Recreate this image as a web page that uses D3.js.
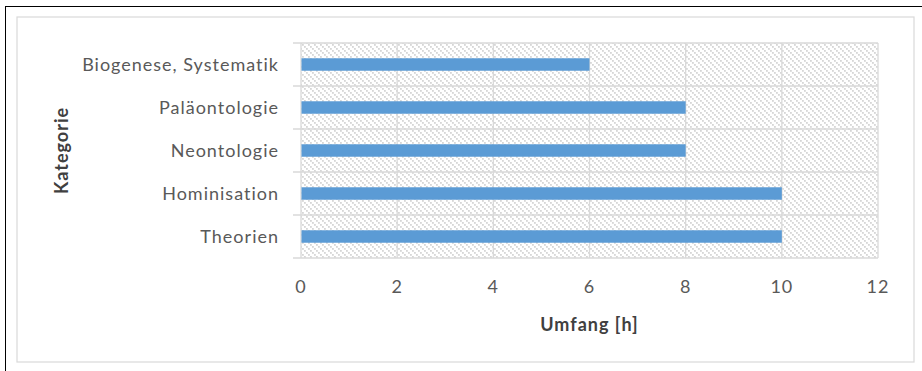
<!DOCTYPE html>
<html>
<head>
<meta charset="utf-8">
<script src="https://cdn.jsdelivr.net/npm/d3@7"></script>
<style>
  html, body { margin: 0; padding: 0; background: #fff; }
  svg { display: block; }
  text { font-family: Lato, "Open Sans", sans-serif; letter-spacing: 1px; }
</style>
</head>
<body>
<svg id="chart" width="922" height="371"></svg>
<script>
// Hours per topic (top to bottom)
const categories = ["Biogenese, Systematik", "Paläontologie", "Neontologie", "Hominisation", "Theorien"];
const hours = [6, 8, 8, 10, 10];
const xTicks = [0, 2, 4, 6, 8, 10, 12];
const xTitle = "Umfang [h]";
const yTitle = "Kategorie";

const W = 922, H = 371;
const plot = { left: 301, right: 878, top: 43, bottom: 258 };
const gridColor = "#d9d9d9";
const textColor = "#595959";
const barColor = "#5b9bd5";

const svg = d3.select("#chart");

// Outer frame and chart area border
svg.append("rect").attr("x", 5.5).attr("y", 6.5).attr("width", W).attr("height", H)
  .attr("fill", "none").attr("stroke", "#000").attr("stroke-width", 1);
svg.append("rect").attr("x", 17).attr("y", 17).attr("width", 897).attr("height", 345)
  .attr("fill", "#fff").attr("stroke", gridColor).attr("stroke-width", 1.2);

// Light downward-diagonal hatch for the plot background
const defs = svg.append("defs");
const pat = defs.append("pattern").attr("id", "hatch")
  .attr("patternUnits", "userSpaceOnUse").attr("width", 6).attr("height", 6);
pat.append("rect").attr("width", 6).attr("height", 6).attr("fill", "#fff");
[[0, 0], [2, 2], [4, 4]].forEach(([x, y]) => {
  pat.append("rect").attr("x", x).attr("y", y).attr("width", 1.8).attr("height", 1.8).attr("fill", "#d6d6d6");
});

const x = d3.scaleLinear().domain([0, 12]).range([plot.left, plot.right]);
const y = d3.scaleBand().domain(categories).range([plot.top, plot.bottom]).paddingInner(0.71).paddingOuter(0.355);
const yb = d3.scaleBand().domain(categories).range([plot.top, plot.bottom]);

svg.append("rect")
  .attr("x", plot.left).attr("y", plot.top)
  .attr("width", plot.right - plot.left).attr("height", plot.bottom - plot.top)
  .attr("fill", "url(#hatch)");

// Vertical gridlines
svg.append("g").selectAll("line").data(xTicks.slice(1)).join("line")
  .attr("x1", d => x(d)).attr("x2", d => x(d))
  .attr("y1", plot.top).attr("y2", plot.bottom)
  .attr("stroke", gridColor).attr("stroke-width", 1.3);

// Horizontal band separators with outward ticks
const bounds = categories.map(c => yb(c)).concat([plot.bottom]);
svg.append("g").selectAll("line").data(bounds).join("line")
  .attr("x1", plot.left - 8).attr("x2", plot.right)
  .attr("y1", d => d).attr("y2", d => d)
  .attr("stroke", gridColor).attr("stroke-width", 1.3);

// Left axis line
svg.append("line").attr("x1", plot.left).attr("x2", plot.left)
  .attr("y1", plot.top).attr("y2", plot.bottom)
  .attr("stroke", gridColor).attr("stroke-width", 1.3);

// Bars
svg.append("g").selectAll("rect").data(categories).join("rect")
  .attr("x", x(0) + 0.5)
  .attr("y", d => y(d))
  .attr("width", (d, i) => x(hours[i]) - x(0) - 0.5)
  .attr("height", y.bandwidth())
  .attr("fill", barColor);

// Category labels
svg.append("g").selectAll("text").data(categories).join("text")
  .attr("x", 279).attr("y", d => yb(d) + yb.bandwidth() / 2)
  .attr("dy", "0.35em").attr("text-anchor", "end")
  .attr("font-size", 18).attr("fill", textColor)
  .text(d => d);

// X tick labels
svg.append("g").selectAll("text").data(xTicks).join("text")
  .attr("x", d => x(d)).attr("y", 287)
  .attr("dy", "0.35em").attr("text-anchor", "middle")
  .attr("font-size", 18).attr("fill", textColor)
  .text(d => d);

// Axis titles
svg.append("text").attr("x", (plot.left + plot.right) / 2).attr("y", 325)
  .attr("dy", "0.35em").attr("text-anchor", "middle")
  .attr("font-size", 18).attr("font-weight", "bold").attr("fill", "#404040")
  .text(xTitle);
svg.append("text")
  .attr("transform", `translate(62,${(plot.top + plot.bottom) / 2}) rotate(-90)`)
  .attr("dy", "0.35em").attr("text-anchor", "middle")
  .attr("font-size", 18).attr("font-weight", "bold").attr("fill", "#404040")
  .text(yTitle);
</script>
</body>
</html>
